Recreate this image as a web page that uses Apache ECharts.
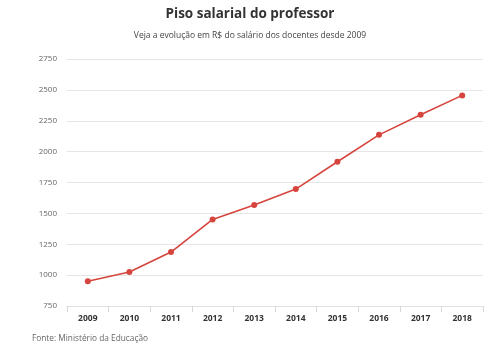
<!DOCTYPE html>
<html><head><meta charset="utf-8">
<script src="https://cdn.jsdelivr.net/npm/echarts@6/dist/echarts.min.js"></script>
<style>html,body{margin:0;padding:0;background:#fff}#c{width:500px;height:364px}</style>
</head><body><div id="c"></div>
<script>
const categories = ['2009','2010','2011','2012','2013','2014','2015','2016','2017','2018'];
const salaries = [950, 1024.67, 1187, 1451, 1567, 1697, 1917.78, 2135.64, 2298.80, 2455.35];
const yTicks = [750, 1000, 1250, 1500, 1750, 2000, 2250, 2500, 2750];

const chart = echarts.init(document.getElementById('c'), null, {renderer:'canvas'});
chart.setOption({
  animation:false,
  backgroundColor:'#fff',
  title:[
    {text:'Piso salarial do professor', left:'center', top:2,
     textStyle:{fontFamily:'Open Sans', fontSize:13.5, fontWeight:'bold', color:'#333'}},
    {text:'Veja a evolução em R$ do salário dos docentes desde 2009', left:'center', top:26,
     textStyle:{fontFamily:'Open Sans', fontSize:8.5, fontWeight:'normal', color:'#444'}},
    {text:'Fonte: Ministério da Educação', left:27, top:330,
     textStyle:{fontFamily:'Open Sans', fontSize:8.3, fontWeight:'normal', color:'#666'}}
  ],
  grid:{left:67, right:17, top:59, bottom:58, containLabel:false},
  xAxis:{type:'category', data:categories, boundaryGap:true,
    axisLine:{show:true, lineStyle:{color:'#e0e0e0'}},
    axisTick:{show:true, length:6, lineStyle:{color:'#d8d8d8'}},
    axisLabel:{fontFamily:'Open Sans', fontSize:8.5, fontWeight:'bold', color:'#333', margin:8},
    splitLine:{show:false}},
  yAxis:{type:'value', min:yTicks[0], max:yTicks[yTicks.length-1], interval:250,
    axisLine:{show:false}, axisTick:{show:false},
    axisLabel:{fontFamily:'Open Sans', fontSize:8, color:'#666', margin:10,
      formatter:v=>String(v)},
    splitLine:{lineStyle:{color:'#e6e6e6', width:1}}},
  series:[{type:'line', data:salaries, symbol:'circle', symbolSize:6,
    lineStyle:{color:'#d6453d', width:1.6},
    itemStyle:{color:'#d6453d'}}]
});
</script></body></html>
